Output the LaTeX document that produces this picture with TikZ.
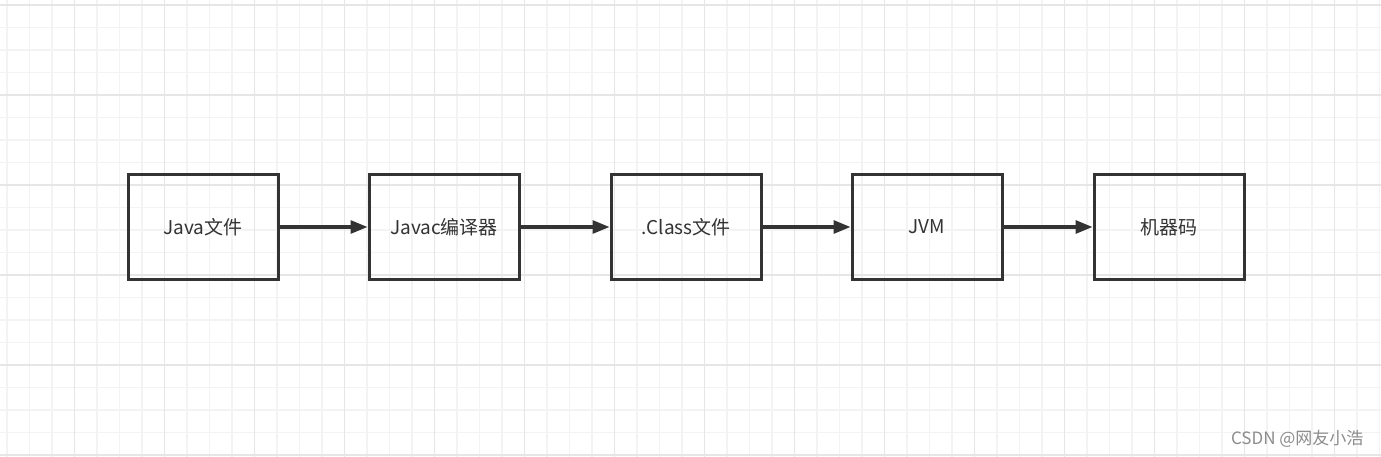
\documentclass[tikz,border=0pt]{standalone}
\usepackage{fontspec}
\setmainfont{Noto Sans CJK SC}
\usetikzlibrary{arrows.meta}
\definecolor{boxline}{HTML}{333333}
\definecolor{minorgrid}{HTML}{F3F3F3}
\definecolor{majorgrid}{HTML}{E6E6E6}
\begin{document}
\begin{tikzpicture}[x=1pt, y=-1pt,
  box/.style={draw=boxline, line width=3pt, minimum width=150pt, minimum height=104pt,
    font=\fontsize{19}{23}\selectfont, text=boxline},
  flow/.style={-{Triangle[length=17pt, width=13pt]}, line width=3pt, draw=boxline},
  mark text/.style={font=\fontsize{17}{20}\selectfont, text=black!45, anchor=east}
]
\useasboundingbox (0,0) rectangle (1381,457);
\fill[white] (0,0) rectangle (1381,457);

% grid
\foreach \x in {7,29.5,...,1381} \draw[minorgrid, line width=1.6pt] (\x,0) -- (\x,457);
\foreach \y in {5,27.5,...,457} \draw[minorgrid, line width=1.6pt] (0,\y) -- (1381,\y);
\foreach \x in {74.5,164.5,...,1381} \draw[majorgrid, line width=1.8pt] (\x,0) -- (\x,457);
\foreach \y in {5,95,...,457} \draw[majorgrid, line width=1.8pt] (0,\y) -- (1381,\y);

\node[box] (java) at (203,227) {Java文件};
\node[box] (javac) at (444,227) {Javac编译器};
\node[box] (class) at (686,227) {.Class文件};
\node[box] (jvm) at (927,227) {JVM};
\node[box] (code) at (1169,227) {机器码};

\draw[flow] (java) -- (javac);
\draw[flow] (javac) -- (class);
\draw[flow] (class) -- (jvm);
\draw[flow] (jvm) -- (code);

\node[mark text] (mark) at (1367,439) {CSDN @网友小浩};
\end{tikzpicture}
\end{document}
